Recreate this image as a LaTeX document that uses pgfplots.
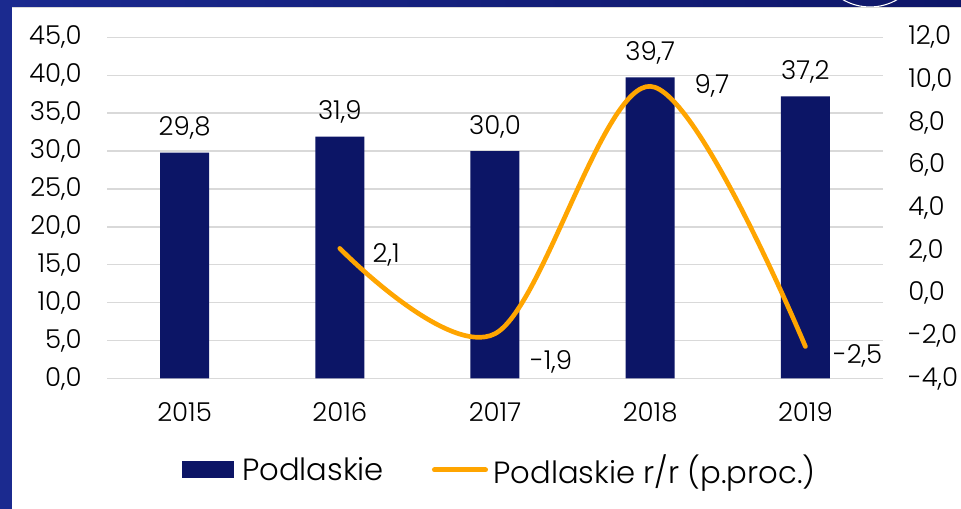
\documentclass[border=0pt]{standalone}
\usepackage{pgfplots}
\pgfplotsset{compat=1.18}
\usepackage{pgfplotstable}
\usepackage{fontspec}
\setmainfont{Poppins}[UprightFont=* Light]
\definecolor{navy}{HTML}{0C1566}
\definecolor{lineorange}{HTML}{FFA500}
\definecolor{gridgray}{HTML}{D9D9D9}
\definecolor{frameblue}{HTML}{1B2A8F}
\definecolor{framedark}{HTML}{0E1668}

\pgfplotstableread{
x y
0 29.8
1 31.9
2 30.0
3 39.7
4 37.2
}\bartable

\pgfplotstableread{
x y dx dy
1 2.1 22.95 -10.2
2 -1.9 24.75 -26.5
3 9.7 31.5 -5.0
4 -2.5 19.2 -12.4
}\linetable

\begin{document}
\begin{tikzpicture}
\useasboundingbox (0,0) rectangle (720.75pt,381.75pt);
\fill[white] (0,0) rectangle (720.75pt,381.75pt);
\fill[frameblue] (0,0) rectangle (9pt,381.75pt);
\shade[left color=frameblue, right color=framedark] (0,376.5pt) rectangle (720.75pt,381.75pt);
\draw[gridgray, line width=0.6pt] (9pt,376.2pt) -- (720.75pt,376.2pt);
\begin{scope}
\clip (0,376.5pt) rectangle (720.75pt,381.75pt);
\draw[white, line width=0.8pt] (652.5pt,416.8pt) circle (40.3pt);
\end{scope}

\pgfplotsset{
  common/.style={
    scale only axis,
    width=582pt, height=255.9pt,
    at={(80.25pt,97.875pt)}, anchor=south west,
    xmin=-0.5, xmax=4.5,
    axis line style={draw=none},
    major tick length=0pt,
    tick label style={font=\fontsize{19.5}{22}\selectfont, text=black},
    yticklabel style={/pgf/number format/fixed, /pgf/number format/fixed zerofill, /pgf/number format/precision=1, /pgf/number format/use comma, /pgf/number format/assume math mode=true},
  }
}

\begin{axis}[
  common,
  ymin=0, ymax=45,
  ytick={0,5,...,45},
  ymajorgrids,
  grid style={gridgray, line width=1pt},
  xtick={0,1,2,3,4},
  xticklabels={2015,2016,2017,2018,2019},
  xticklabel style={anchor=north, inner sep=0pt, yshift=-17.6pt},
  yticklabel style={anchor=east, inner sep=0pt, xshift=-18.75pt},
  ybar, bar width=36.75pt,
  nodes near coords={\pgfmathprintnumber[fixed,fixed zerofill,precision=1,use comma,assume math mode=true]{\pgfplotspointmeta}},
  nodes near coords style={font=\fontsize{19.5}{22}\selectfont, anchor=base, inner sep=0pt, yshift=12.75pt, text=black},
  legend columns=2,
  legend style={at={(0.505,-0.268)}, anchor=center, draw=none, fill=none,
    font=\fontsize{23}{27}\selectfont,
    /tikz/every even column/.append style={column sep=36pt},
    nodes={inner sep=0pt, text=black}},
  legend cell align=left,
]
\addplot[fill=navy, draw=none,
  legend image code/.code={\fill[navy] (0pt,-6.375pt) rectangle (39pt,6.375pt);}]
  table[x=x,y=y] {\bartable};
\addlegendentry{\hspace{6pt}Podlaskie}
\addlegendimage{legend image code/.code={\draw[lineorange, line width=3.75pt, line cap=round] (1.5pt,0pt) -- (39.75pt,0pt);}}
\addlegendentry{\hspace{4pt}Podlaskie r/r (p.proc.)}
\end{axis}

\begin{axis}[
  common,
  ymin=-4, ymax=12,
  ytick={-4,-2,...,12},
  axis y line*=right,
  axis x line=none,
  yticklabel style={anchor=west, inner sep=0pt, xshift=18.75pt},
]
\addplot[lineorange, line width=3.5pt, line cap=round, smooth, tension=0.55,
  visualization depends on={\thisrow{dx}\as\myDX},
  visualization depends on={\thisrow{dy}\as\myDY},
  point meta=y,
  nodes near coords={\pgfmathprintnumber[fixed,fixed zerofill,precision=1,use comma,assume math mode=true]{\pgfplotspointmeta}},
  every node near coord/.append style={font=\fontsize{19.5}{22}\selectfont, anchor=base west, inner sep=0pt, xshift=\myDX pt, yshift=\myDY pt, text=black},
] table[x=x,y=y] {\linetable};
\end{axis}
\end{tikzpicture}
\end{document}
